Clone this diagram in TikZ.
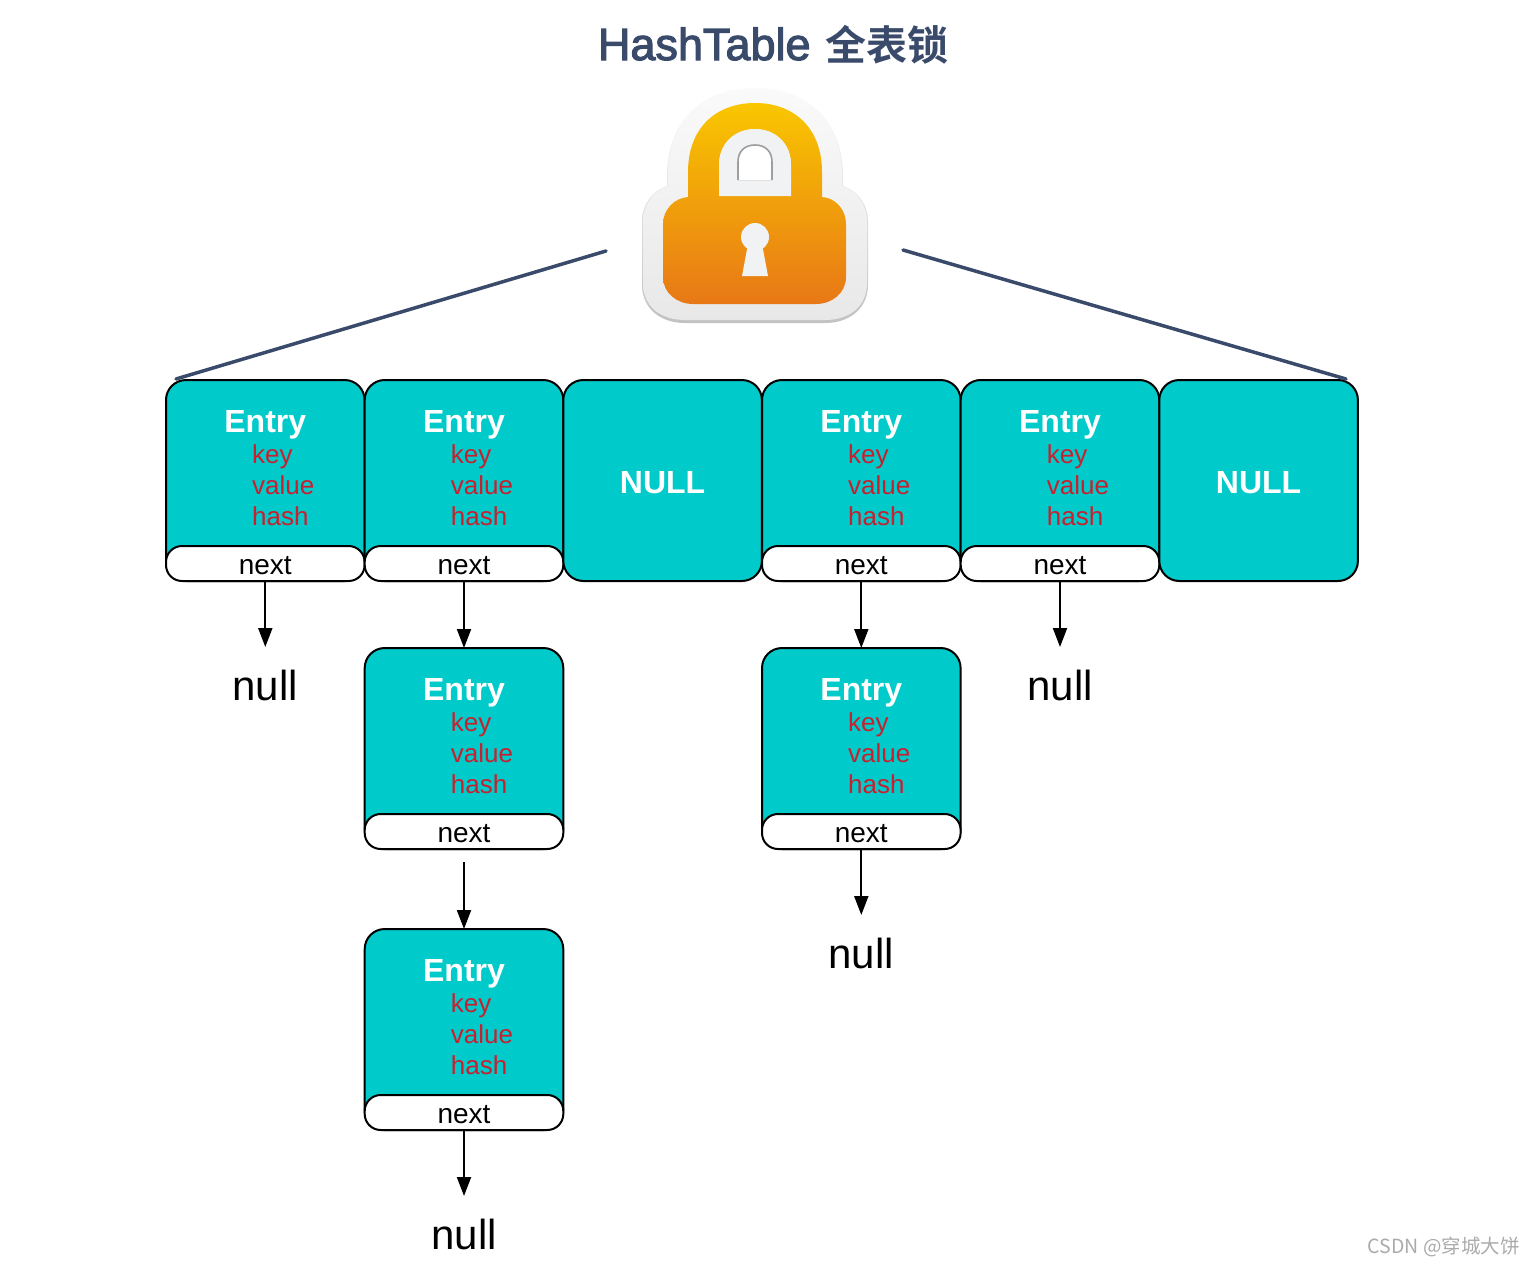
\documentclass[tikz,border=0pt]{standalone}
\usepackage{fontspec}
\setmainfont{Liberation Sans}
\newfontfamily\cjkfont{Noto Sans CJK SC}
\newfontfamily\cjkbold{Noto Sans CJK SC Bold}
\newfontfamily\titlefont[FakeBold=2.5]{Liberation Sans}
\usetikzlibrary{arrows.meta}
\definecolor{teal1}{HTML}{00CACA}
\definecolor{redtxt}{HTML}{C8202F}
\definecolor{navy}{HTML}{3A4A6B}
\definecolor{locktop}{RGB}{249,198,0}
\definecolor{lockbot}{RGB}{232,120,22}
\definecolor{lockpale}{HTML}{F1F2F3}
\tikzset{
  cardbox/.style={draw=black,line width=2pt,fill=teal1,rounded corners=20pt,minimum width=198.6pt,minimum height=201pt,inner sep=0pt,outer sep=0pt},
  nextbox/.style={draw=black,line width=2pt,fill=white,rounded corners=16pt,minimum width=198.6pt,minimum height=35pt,inner sep=0pt,outer sep=0pt,font=\fontsize{28}{30}\selectfont},
  headtxt/.style={inner sep=0pt,text=white,font=\fontsize{32}{36}\selectfont\bfseries},
  fieldtxt/.style={inner sep=0pt,anchor=base west,text=redtxt,font=\fontsize{26}{28}\selectfont},
  nulltxt/.style={inner sep=0pt,outer sep=0pt,minimum height=76pt,anchor=north,font=\fontsize{42}{44}\selectfont},
  link/.style={draw=black,line width=2pt,-{Triangle[width=14pt,length=19pt]}},
  cover/.style={draw=navy,line width=3.5pt,line cap=round},
}
\newcommand{\EntryCard}[3]{%
  \node[cardbox] (#1) at ({#2+99.3},{#3+100.5}) {};
  \node[nextbox] (#1next) at ({#2+99.3},{#3+183.5}) {\raisebox{-2pt}[\height][0pt]{next}};
  \node[headtxt] (#1head) at ({#2+99.3},{#3+45}) {Entry};
  \node[fieldtxt] (#1key) at ({#2+86},{#3+83}) {key};
  \node[fieldtxt] (#1val) at ({#2+86},{#3+114}) {value};
  \node[fieldtxt] (#1hash) at ({#2+86},{#3+145}) {hash};
}
\newcommand{\NullCard}[3]{%
  \node[cardbox] (#1) at ({#2+99.3},{#3+100.5}) {};
  \node[headtxt] (#1head) at ({#2+99.3},{#3+103}) {NULL};
}
\begin{document}
\begin{tikzpicture}[x=1pt,y=-1pt]
\useasboundingbox (0,0) rectangle (1534,1264);
\fill[white] (0,0) rectangle (1534,1264);

% title
\node[inner sep=0pt,text=navy,anchor=base] (title) at (773,60)
  {\titlefont\fontsize{45}{46}\selectfont HashTable\hspace{2pt} {\cjkbold\fontsize{41}{46}\selectfont 全表锁}};

% lock: soft shadow
\shade[top color=white,bottom color=black!24] (667,176) .. controls (667,120) and (705,87) .. (755,87) .. controls (805,87) and (843,120) .. (843,176)
  -- (843,186) .. controls (859,192) and (868,205) .. (868,222) -- (868,285) .. controls (868,308) and (850,323) .. (825,323)
  -- (685,323) .. controls (660,323) and (642,308) .. (642,285) -- (642,222) .. controls (642,205) and (651,192) .. (667,186) -- cycle;
% lock: halo
\shade[top color=black!2,bottom color=black!9] (668,176) .. controls (668,120) and (705,88) .. (755,88) .. controls (805,88) and (842,120) .. (842,176)
  -- (842,186) .. controls (858,192) and (867,205) .. (867,222) -- (867,283) .. controls (867,306) and (850,320) .. (825,320)
  -- (685,320) .. controls (660,320) and (643,306) .. (643,283) -- (643,222) .. controls (643,205) and (652,192) .. (668,186) -- cycle;
% lock: orange body and shackle
\shade[top color=locktop,bottom color=lockbot,even odd rule]
  (688,197) -- (688,172) .. controls (688,128) and (716,103) .. (755,103) .. controls (794,103) and (822,128) .. (822,172) -- (822,197)
  .. controls (836,198) and (846,210) .. (846,224) -- (846,277) .. controls (846,293) and (832,304) .. (816,304)
  -- (693,304) .. controls (677,304) and (663,293) .. (663,277) -- (663,224) .. controls (663,210) and (674,198) .. (688,197) -- cycle
  (719,196) -- (719,165) .. controls (719,143) and (735,129) .. (755,129) .. controls (775,129) and (791,143) .. (791,165) -- (791,196) -- cycle;
% lock: shackle window
\fill[lockpale] (719,196) -- (719,165) .. controls (719,143) and (735,129) .. (755,129) .. controls (775,129) and (791,143) .. (791,165) -- (791,196) -- cycle;
\fill[white] (738,180) -- (738,162) .. controls (738,151) and (745,145) .. (755,145) .. controls (765,145) and (772,151) .. (772,162) -- (772,180) -- cycle;
\draw[black!38,line width=1.6pt] (738,180) -- (738,162) .. controls (738,151) and (745,145) .. (755,145) .. controls (765,145) and (772,151) .. (772,162) -- (772,180);
\draw[black!12,line width=1pt] (738,180) -- (772,180);
% lock: keyhole
\fill[lockpale] (755,237) circle[radius=14];
\fill[lockpale] (748,244) -- (762,244) -- (768,276) -- (742,276) -- cycle;

% cards, top row
\EntryCard{a}{166}{380}
\EntryCard{b}{364.7}{380}
\NullCard{c}{563.3}{380}
\EntryCard{d}{762}{380}
\EntryCard{e}{960.7}{380}
\NullCard{f}{1159.3}{380}
% chains
\EntryCard{bb}{364.7}{648}
\EntryCard{bc}{364.7}{929}
\EntryCard{db}{762}{648}

% null labels
\node[nulltxt] (nulla) at (265.3,647) {null};
\node[nulltxt] (nulle) at (1060,647) {null};
\node[nulltxt] (nulldb) at (861.3,915) {null};
\node[nulltxt] (nullbc) at (464,1196) {null};

% links
\draw[link] (anext.south) -- (nulla.north);
\draw[link,xshift=-0.8pt] (bnext.south) -- (bb.north);
\draw[link,xshift=-0.8pt,shorten <=13pt] (bbnext.south) -- (bc.north);
\draw[link] (bcnext.south) -- (nullbc.north);
\draw[link,xshift=-1pt] (dnext.south) -- (db.north);
\draw[link] (dbnext.south) -- (nulldb.north);
\draw[link] (enext.south) -- (nulle.north);

% lines from the lock to the table
\coordinate (lockl) at (606,251);
\coordinate (lockr) at (903,250);
\coordinate (tabl) at (176,379);
\coordinate (tabr) at (1346,379);
\draw[cover] (lockl) -- (tabl);
\draw[cover] (lockr) -- (tabr);

% watermark
\node[inner sep=0pt,anchor=base east,text=black!33] (mark) at (1520,1253)
  {\cjkfont\fontsize{19.5}{22}\selectfont CSDN @穿城大饼};
\end{tikzpicture}
\end{document}
